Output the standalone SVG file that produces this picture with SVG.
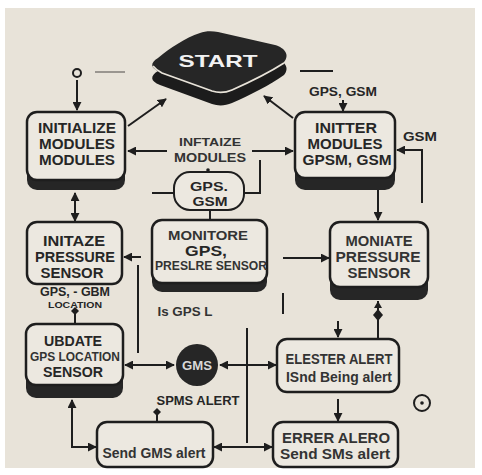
<svg xmlns="http://www.w3.org/2000/svg" width="482" height="475" viewBox="0 0 482 475">
<defs>
<marker id="ah" viewBox="0 0 10 10" refX="9" refY="5" markerWidth="9" markerHeight="9" markerUnits="userSpaceOnUse" orient="auto-start-reverse"><path d="M0,0 L10,5 L0,10 Z" fill="#1e1e1e"/></marker>
<marker id="dm" viewBox="0 0 10 10" refX="5" refY="5" markerWidth="8" markerHeight="8" markerUnits="userSpaceOnUse" orient="auto"><path d="M0,5 L5,0 L10,5 L5,10 Z" fill="#1e1e1e"/></marker>
</defs>
<style>
.box{fill:#ece8e0;stroke:#1e1e1e;stroke-width:2.5}
.sh{fill:#262626}
.t{font-family:"Liberation Sans",Arial,sans-serif;font-weight:700;fill:#262626;text-anchor:middle}
.n{font-family:"Liberation Sans",Arial,sans-serif;font-weight:700;fill:#333333;text-anchor:middle}
.ln{fill:none;stroke:#1e1e1e;stroke-width:2}
.ar{fill:none;stroke:#1e1e1e;stroke-width:2;marker-end:url(#ah)}
.da{fill:none;stroke:#1e1e1e;stroke-width:2;marker-end:url(#ah);marker-start:url(#ah)}
</style>
<rect width="482" height="475" fill="#ffffff"/>
<rect x="5" y="8" width="470" height="460" fill="#e8e3d9"/>

<g id="connectors">
<circle cx="77" cy="73" r="4" fill="none" stroke="#1e1e1e" stroke-width="2"/>
<line x1="95" y1="72" x2="125" y2="72" stroke="#9a9690" stroke-width="2"/>
<line x1="300" y1="71" x2="333" y2="71" stroke="#1e1e1e" stroke-width="2"/>
<line class="ar" x1="77" y1="80" x2="77" y2="110"/>
<line class="ar" x1="128" y1="126" x2="166" y2="99"/>
<line class="ar" x1="293" y1="118" x2="264" y2="96"/>
<line class="ar" x1="343" y1="100" x2="343" y2="111"/>
<path class="ar" d="M422 203 L422 150 L397 150"/>
<line class="ar" x1="167" y1="151" x2="128" y2="151"/>
<line class="ar" x1="252" y1="151" x2="293" y2="151"/>
<circle cx="208" cy="170" r="1.8" fill="#1e1e1e"/>
<path class="ln" d="M260 160 L260 193 L244 193"/>
<line class="ln" x1="152" y1="193" x2="174" y2="193"/>
<line class="ln" x1="210" y1="210" x2="210" y2="220"/>
<line class="da" x1="75" y1="193" x2="75" y2="221"/>
<line class="ar" x1="378" y1="190" x2="378" y2="220"/>
<line class="ar" x1="141" y1="257" x2="124" y2="257"/>
<line class="ln" x1="138" y1="265" x2="138" y2="353"/>
<line class="ar" x1="283" y1="258" x2="329" y2="258"/>
<line class="ln" x1="283" y1="293" x2="283" y2="314"/>
<line class="ln" x1="75" y1="311" x2="75" y2="324" marker-start="url(#dm)"/>
<line class="da" x1="125" y1="365" x2="174" y2="365"/>
<line class="da" x1="220" y1="365" x2="276" y2="365"/>
<line class="ln" x1="247" y1="328" x2="247" y2="443"/>
<line class="ln" x1="378" y1="339" x2="378" y2="301"/>
<path d="M373 315 L378 309 L383 315 L378 321 Z" fill="#1e1e1e"/>
<path d="M378 301 L382 308 L374 308 Z" fill="#1e1e1e"/>
<line class="ar" x1="338" y1="321" x2="338" y2="337"/>
<line class="ar" x1="338" y1="399" x2="338" y2="421"/>
<path class="da" d="M72 400 L72 447 L96 447"/>
<line class="da" x1="214" y1="447" x2="272" y2="447"/>
<line class="ln" x1="157" y1="412" x2="157" y2="422" marker-start="url(#dm)"/>
<circle cx="422" cy="403" r="8" fill="none" stroke="#1e1e1e" stroke-width="2"/>
<circle cx="422" cy="403" r="1.8" fill="#1e1e1e"/>
</g>

<g id="start">
<path d="M158 71 C170 61,185 51,200 46 C205 44,212 44,218 45 L275 58 C285 61,290 68,284 75 C270 85,250 95,232 103 C225 106,218 106,212 104 L160 85 C150 81,150 76,158 71 Z" fill="#1c1c1c"/>
<path d="M158 58 C170 48,185 38,200 33 C205 31,212 31,218 32 L275 45 C285 48,290 55,284 62 C270 72,250 82,232 90 C225 93,218 93,212 91 L160 72 C150 68,150 63,158 58 Z" fill="#262626"/>
<path d="M153 66 C156 70,158 71,162 73 L212 91 C218 93,225 93,232 90 C250 82,270 72,284 63" fill="none" stroke="#e8e3d9" stroke-width="1.8"/>
<text x="218" y="67" font-size="17" textLength="79" lengthAdjust="spacingAndGlyphs" style="font-family:'Liberation Sans',Arial,sans-serif;font-weight:700;fill:#f2f2f2;text-anchor:middle">START</text>
</g>

<g id="labels">
<text class="t" x="343" y="96" font-size="12" textLength="68" lengthAdjust="spacingAndGlyphs">GPS, GSM</text>
<text class="t" x="420" y="141" font-size="12" textLength="34" lengthAdjust="spacingAndGlyphs">GSM</text>
<text class="n" x="210" y="146" font-size="11" textLength="62" lengthAdjust="spacingAndGlyphs">INFTAIZE</text>
<text class="n" x="210" y="162" font-size="12" textLength="72" lengthAdjust="spacingAndGlyphs">MODULES</text>
<text class="t" x="75" y="296" font-size="12" textLength="70" lengthAdjust="spacingAndGlyphs">GPS, - GBM</text>
<text class="t" x="75" y="308" font-size="9" textLength="54" lengthAdjust="spacingAndGlyphs">LOCATION</text>
<text class="n" x="185" y="316" font-size="13" textLength="55" lengthAdjust="spacingAndGlyphs">Is GPS L</text>
<text class="t" x="198" y="405" font-size="13" textLength="83" lengthAdjust="spacingAndGlyphs">SPMS ALERT</text>
</g>

<g id="gps-gsm">
<rect x="174" y="172" width="70" height="38" rx="16" fill="#ece8e0" stroke="#1e1e1e" stroke-width="2"/>
<text class="t" x="209" y="191" font-size="13" textLength="38" lengthAdjust="spacingAndGlyphs">GPS.</text>
<text class="t" x="210" y="206" font-size="13" textLength="35" lengthAdjust="spacingAndGlyphs">GSM</text>
</g>

<g id="init-modules">
<rect class="sh" x="27" y="130" width="98" height="60" rx="10"/>
<rect class="box" x="27" y="112" width="98" height="68" rx="10"/>
<text class="t" x="77" y="133" font-size="14" textLength="78" lengthAdjust="spacingAndGlyphs">INITIALIZE</text>
<text class="t" x="77" y="149" font-size="14" textLength="76" lengthAdjust="spacingAndGlyphs">MODULES</text>
<text class="t" x="77" y="165" font-size="14" textLength="76" lengthAdjust="spacingAndGlyphs">MODULES</text>
</g>

<g id="initter-modules">
<rect class="sh" x="295" y="130" width="100" height="60" rx="10"/>
<rect class="box" x="295" y="112" width="100" height="66" rx="10"/>
<text class="t" x="346" y="133" font-size="14" textLength="62" lengthAdjust="spacingAndGlyphs">INITTER</text>
<text class="t" x="345" y="149" font-size="14" textLength="75" lengthAdjust="spacingAndGlyphs">MODULES</text>
<text class="t" x="347" y="165" font-size="14" textLength="89" lengthAdjust="spacingAndGlyphs">GPSM, GSM</text>
</g>

<g id="initaze-pressure">
<rect class="box" x="27" y="222" width="95" height="62" rx="10"/>
<text class="t" x="74" y="246" font-size="14" textLength="62" lengthAdjust="spacingAndGlyphs">INITAZE</text>
<text class="t" x="75" y="262" font-size="14" textLength="80" lengthAdjust="spacingAndGlyphs">PRESSURE</text>
<text class="t" x="72" y="278" font-size="14" textLength="63" lengthAdjust="spacingAndGlyphs">SENSOR</text>
</g>

<g id="monitore">
<rect class="sh" x="152" y="240" width="115" height="52" rx="10"/>
<rect class="box" x="152" y="220" width="115" height="63" rx="10"/>
<text class="n" x="208" y="240" font-size="13.5" textLength="80" lengthAdjust="spacingAndGlyphs">MONITORE</text>
<text class="t" x="206" y="256" font-size="14" textLength="42" lengthAdjust="spacingAndGlyphs">GPS,</text>
<text class="n" x="211" y="270" font-size="12" textLength="112" lengthAdjust="spacingAndGlyphs">PRESLRE SENSOR</text>
</g>

<g id="moniate-pressure">
<rect class="sh" x="330" y="240" width="98" height="60" rx="10"/>
<rect class="box" x="330" y="222" width="98" height="65" rx="10"/>
<text class="n" x="379" y="246" font-size="14" textLength="67" lengthAdjust="spacingAndGlyphs">MONIATE</text>
<text class="n" x="378" y="262" font-size="14" textLength="85" lengthAdjust="spacingAndGlyphs">PRESSURE</text>
<text class="n" x="379" y="278" font-size="14" textLength="63" lengthAdjust="spacingAndGlyphs">SENSOR</text>
</g>

<g id="ubdate">
<rect class="sh" x="26" y="345" width="97" height="53" rx="10"/>
<rect class="box" x="26" y="324" width="97" height="61" rx="10"/>
<text class="t" x="73" y="346" font-size="14" textLength="58" lengthAdjust="spacingAndGlyphs">UBDATE</text>
<text class="n" x="75" y="361" font-size="12" textLength="90" lengthAdjust="spacingAndGlyphs">GPS LOCATION</text>
<text class="t" x="73" y="376.5" font-size="14" textLength="60" lengthAdjust="spacingAndGlyphs">SENSOR</text>
</g>

<g id="gms">
<circle cx="197" cy="365" r="21" fill="#262626"/>
<text x="197" y="370" font-size="13" textLength="30" lengthAdjust="spacingAndGlyphs" style="font-family:'Liberation Sans',Arial,sans-serif;font-weight:700;fill:#d8d8d8;text-anchor:middle">GMS</text>
</g>

<g id="elester-alert">
<rect class="box" x="277" y="339" width="122" height="53" rx="10"/>
<text class="n" x="339" y="364" font-size="14" textLength="107" lengthAdjust="spacingAndGlyphs">ELESTER ALERT</text>
<text class="n" x="339" y="382" font-size="14" textLength="106" lengthAdjust="spacingAndGlyphs">ISnd Being alert</text>
</g>

<g id="send-gms">
<rect class="box" x="97" y="422" width="116" height="45" rx="10"/>
<text class="n" x="154" y="458" font-size="14" textLength="103" lengthAdjust="spacingAndGlyphs">Send GMS alert</text>
</g>

<g id="errer-alero">
<rect class="box" x="273" y="422" width="125" height="45" rx="10"/>
<text class="n" x="336" y="443" font-size="14" textLength="108" lengthAdjust="spacingAndGlyphs">ERRER ALERO</text>
<text class="n" x="335" y="459" font-size="14" textLength="110" lengthAdjust="spacingAndGlyphs">Send SMs alert</text>
</g>
</svg>
